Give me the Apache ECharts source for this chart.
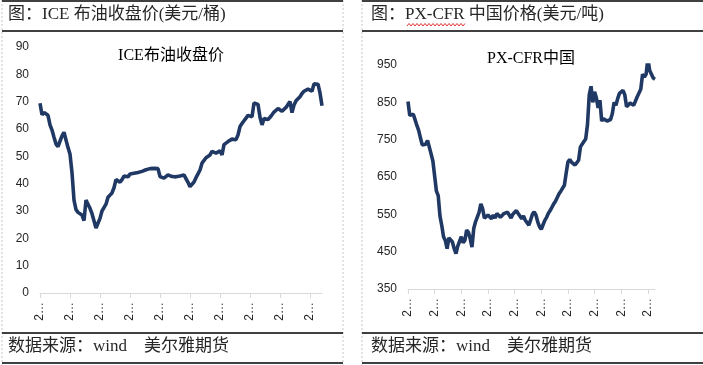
<!DOCTYPE html>
<html><head><meta charset="utf-8">
<script src="https://cdn.jsdelivr.net/npm/echarts@6/dist/echarts.min.js"></script>
<style>html,body{margin:0;padding:0;background:#fff}#c{width:703px;height:365px}</style>
</head><body><div id="c"></div>
<script>
// ICE Brent close (USD/bbl)
const brent = [69.4,65.2,66.0,65.4,65.0,61.5,59.6,57.0,54.5,53.6,
 54.0,57.5,58.8,56.0,53.2,50.8,44.0,34.0,30.5,29.5,
 30.2,28.5,26.5,34.0,32.5,31.0,29.0,29.0,23.8,23.3,
 27.3,30.0,30.5,32.5,35.0,35.8,36.6,38.5,41.5,42.2,
 40.5,41.5,42.8,42.3,42.5,43.5,43.4,43.8,43.9,44.1,
 44.4,44.5,44.9,45.1,45.3,45.5,45.2,45.6,46.2,45.5,
 42.6,42.2,42.0,41.6,43.2,42.9,42.6,42.8,42.5,42.7,
 42.8,43.2,43.2,41.8,40.5,38.9,38.5,40.6,42.2,43.6,
 45.0,47.5,48.2,49.5,50.2,50.5,51.8,52.4,51.2,51.5,
 52.0,50.5,54.3,54.8,55.4,56.0,56.3,56.5,56.1,57.8,
 60.9,62.0,63.0,64.0,65.0,65.7,64.5,69.5,70.0,69.0,
 64.3,61.5,63.8,63.2,63.5,64.3,65.2,66.2,66.8,67.5,
 68.2,66.5,66.0,67.9,69.0,70.0,66.0,68.8,70.3,71.0,
 71.8,73.0,73.8,74.1,74.6,75.1,73.8,76.5,75.8,76.4,
 73.2,68.5];
// PX CFR China (USD/t)
const px = [852,815,812,818,803,788,775,755,736,731,
 738,748,752,712,693,690,612,600,545,520,
 490,480,458,487,486,476,458,445,465,470,
 490,474,480,508,502,485,462,512,530,528,
 555,578,565,540,540,548,545,538,548,540,
 552,548,542,540,552,557,556,552,540,550,
 546,560,552,548,538,546,534,530,521,535,
 550,557,548,530,517,510,522,534,542,553,
 560,556,578,585,582,605,612,610,628,660,
 690,697,690,693,682,678,695,730,738,745,
 752,790,870,893,850,878,862,835,856,800,
 806,804,800,805,804,820,850,842,860,874,
 872,882,870,838,836,848,850,842,845,865,
 870,885,925,918,925,968,935,930,915,912];
const brentCats = brent.map((_, i) => i);
const pxCats = px.map((_, i) => i);
const xTickLabel = '2…';
const brentAxis = {min: 0, max: 90, step: 10};
const pxAxis = {min: 350, max: 950, step: 100};
const leftHeader = '图：ICE 布油收盘价(美元/桶)';
const rightHeader = '图：PX-CFR 中国价格(美元/吨)';
const leftTitle = 'ICE布油收盘价';
const rightTitle = 'PX-CFR中国';
const sourceText = '数据来源：wind　美尔雅期货';

const LINE = '#203864';
const TXT = '#262626';
const FONT = '"Liberation Serif","Noto Sans CJK SC",serif';
const NUMFONT = '"Liberation Sans",Arial,sans-serif';

function xAxis(gi, cats) {
  return {
    type: 'category', gridIndex: gi, data: cats, boundaryGap: false,
    axisLine: {lineStyle: {color: '#d9d9d9', width: 1}},
    axisTick: {show: true, interval: 14, length: 5, lineStyle: {color: '#d9d9d9'}},
    axisLabel: {interval: 14, rotate: 90, margin: 9, color: TXT, fontSize: 12,
      fontFamily: NUMFONT, formatter: () => xTickLabel},
    splitLine: {show: false}
  };
}
function yAxis(gi, a) {
  return {
    type: 'value', gridIndex: gi, min: a.min, max: a.max, interval: a.step,
    axisLine: {show: false}, axisTick: {show: false}, splitLine: {show: false},
    axisLabel: {color: TXT, fontSize: 12, fontFamily: NUMFONT, margin: 11}
  };
}
function hline(x1, x2, y) {
  return {type: 'line', shape: {x1, y1: y, x2, y2: y}, style: {stroke: '#000', lineWidth: 1.5}, silent: true};
}
function vdash(x) {
  return {type: 'line', shape: {x1: x, y1: 0, x2: x, y2: 365}, style: {stroke: '#c8c8c8', lineWidth: 1, lineDash: [2, 2]}, silent: true};
}
const wave = [];
for (let x = 407, k = 0; x <= 466; x += 2, k++) wave.push([x, k % 2 ? 23.5 : 26]);

const chart = echarts.init(document.getElementById('c'));
chart.setOption({
  animation: false,
  backgroundColor: '#fff',
  grid: [
    {left: 40, right: 381, top: 47, bottom: 72},
    {left: 408, right: 48, top: 65, bottom: 76}
  ],
  xAxis: [xAxis(0, brentCats), xAxis(1, pxCats)],
  yAxis: [yAxis(0, brentAxis), yAxis(1, pxAxis)],
  series: [
    {type: 'line', xAxisIndex: 0, yAxisIndex: 0, data: brent, showSymbol: false,
      lineStyle: {color: LINE, width: 3.6}, itemStyle: {color: LINE}},
    {type: 'line', xAxisIndex: 1, yAxisIndex: 1, data: px, showSymbol: false,
      lineStyle: {color: LINE, width: 3.6}, itemStyle: {color: LINE}}
  ],
  graphic: [
    vdash(2), vdash(343), vdash(362),
    hline(2, 343, 1), hline(2, 343, 31), hline(2, 343, 333), hline(2, 343, 363),
    hline(362, 703, 1), hline(362, 703, 31), hline(362, 703, 333), hline(362, 703, 363),
    {type: 'text', left: 8, top: 6, style: {text: leftHeader, font: '17px ' + FONT, fill: TXT}},
    {type: 'text', left: 371, top: 6, style: {text: rightHeader, font: '17px ' + FONT, fill: TXT}},
    {type: 'polyline', shape: {points: wave}, style: {stroke: '#e03030', lineWidth: 1, fill: null}, silent: true},
    {type: 'text', x: 171, y: 56, style: {text: leftTitle, font: '16px ' + FONT, fill: '#000', align: 'center', verticalAlign: 'middle'}},
    {type: 'text', x: 531, y: 59, style: {text: rightTitle, font: '16px ' + FONT, fill: '#000', align: 'center', verticalAlign: 'middle'}},
    {type: 'text', left: 8, top: 338, style: {text: sourceText, font: '17px ' + FONT, fill: TXT}},
    {type: 'text', left: 371, top: 338, style: {text: sourceText, font: '17px ' + FONT, fill: TXT}}
  ]
});
</script>
</body></html>
